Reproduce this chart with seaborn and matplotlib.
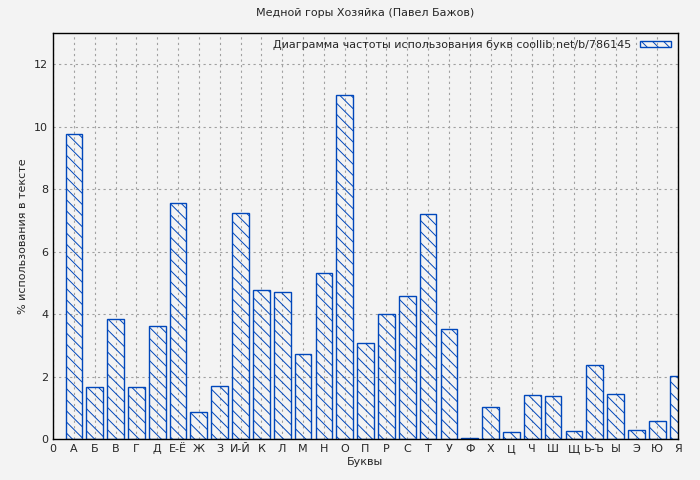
import matplotlib
matplotlib.use("Agg")
import matplotlib.pyplot as plt
import seaborn as sns
import pandas as pd
from matplotlib.patches import Patch

letters = ['0', 'А', 'Б', 'В', 'Г', 'Д', 'Е-Ё', 'Ж', 'З', 'И-Й', 'К', 'Л', 'М', 'Н', 'О',
           'П', 'Р', 'С', 'Т', 'У', 'Ф', 'Х', 'Ц', 'Ч', 'Ш', 'Щ', 'Ь-Ъ', 'Ы', 'Э', 'Ю', 'Я']
values = [9.77, 1.68, 3.85, 1.68, 3.63, 7.57, 0.85, 1.71, 7.25, 4.78, 4.72, 2.73, 5.32,
          11.0, 3.06, 3.99, 4.57, 7.19, 3.51, 0.03, 1.02, 0.22, 1.40, 1.37, 0.25, 2.36,
          1.43, 0.28, 0.57, 2.01]

df = pd.DataFrame({'pos': list(range(1, len(values) + 1)), 'val': values})

sns.set_style("white")
plt.rcParams['font.family'] = ['DejaVu Sans']
plt.rcParams['hatch.color'] = '#0047bb'
plt.rcParams['hatch.linewidth'] = 0.7

fig = plt.figure(figsize=(7, 4.8), dpi=100, facecolor='#f3f3f3')
ax = fig.add_axes([53 / 700, 41 / 480, 625 / 700, 406 / 480])
ax.set_facecolor('#f3f3f3')

sns.barplot(data=df, x='pos', y='val', native_scale=True, width=0.8,
            color='none', edgecolor='#0047bb', linewidth=1.0, ax=ax)
for p in ax.patches:
    p.set_hatch('\\\\\\')
    p.set_facecolor('none')

ax.set_xlim(0, 30)
ax.set_ylim(0, 13)
ax.set_xticks(range(len(letters)))
ax.set_xticklabels(letters, fontsize=8)
ax.set_yticks(range(0, 13, 2))
ax.tick_params(labelsize=8, direction='in', length=4)
ax.grid(True, color='#a0a0a0', linestyle=(0, (2, 3)), linewidth=0.8)
ax.set_axisbelow(True)
for s in ax.spines.values():
    s.set_color('black')
    s.set_linewidth(1)

ax.set_xlabel('Буквы', fontsize=8, labelpad=2)
ax.set_ylabel('% использования в тексте', fontsize=8)
ax.set_title('Медной горы Хозяйка (Павел Бажов)', fontsize=8, pad=12)

h = Patch(facecolor='none', edgecolor='#0047bb', hatch='\\\\\\',
          label='Диаграмма частоты использования букв coollib.net/b/786145')
ax.legend(handles=[h], loc='upper right', frameon=False, fontsize=8,
          markerfirst=False, handlelength=2.8, handleheight=0.5,
          borderaxespad=0.2)

fig.savefig('out.png', dpi=100, facecolor=fig.get_facecolor())
